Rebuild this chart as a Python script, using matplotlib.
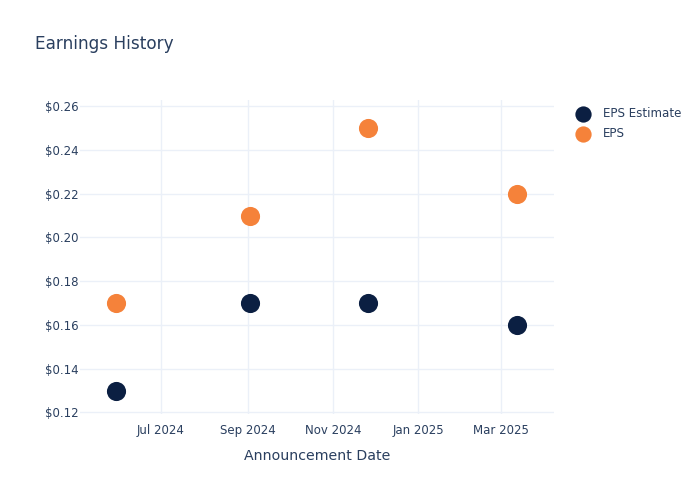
import matplotlib
matplotlib.use("Agg")
import matplotlib.pyplot as plt
import matplotlib.dates as mdates
from matplotlib.ticker import FuncFormatter
import pandas as pd

dates = ["2024-05-30", "2024-09-03", "2024-11-26", "2025-03-13"]
eps_estimate = [0.13, 0.17, 0.17, 0.16]
eps_actual = [0.17, 0.21, 0.25, 0.22]
y_ticks = [0.12, 0.14, 0.16, 0.18, 0.20, 0.22, 0.24, 0.26]
x_ticks = ["2024-07-01", "2024-09-01", "2024-11-01", "2025-01-01", "2025-03-01"]
x_tick_labels = ["Jul 2024", "Sep 2024", "Nov 2024", "Jan 2025", "Mar 2025"]

text_color = "#2a3f5f"
grid_color = "#ebf0f8"
navy = "#0b1f42"
orange = "#f5823a"

plt.rcParams['font.family'] = ['DejaVu Sans']
fig = plt.figure(figsize=(7, 5), dpi=100)
ax = fig.add_axes([80/700, 1-413.5/500, (553.7-80)/700, (413.5-100)/500])

d = pd.to_datetime(dates)
ax.scatter(d, eps_estimate, s=190, color=navy, label="EPS Estimate", zorder=3, linewidths=0)
ax.scatter(d, eps_actual, s=190, color=orange, label="EPS", zorder=3, linewidths=0)

ax.set_xlim(pd.Timestamp("2024-05-04"), pd.Timestamp("2025-04-08"))
ax.set_ylim(0.1195, 0.2628)
ax.set_yticks(y_ticks)
ax.yaxis.set_major_formatter(FuncFormatter(lambda v, p: f"${v:.2f}"))
ax.set_xticks(pd.to_datetime(x_ticks))
ax.set_xticklabels(x_tick_labels)

for s in ax.spines.values():
    s.set_visible(False)
ax.grid(True, color=grid_color, linewidth=1)
ax.set_axisbelow(True)
ax.tick_params(axis='both', length=0, colors=text_color, labelsize=8.5)
ax.tick_params(axis='x', pad=7.5)
ax.tick_params(axis='y', pad=1)

ax.set_xlabel("Announcement Date", color=text_color, fontsize=10.2, labelpad=8.5)
fig.text(35/700, 1-44/500, "Earnings History", color=text_color, fontsize=12.2, va='center', ha='left')

leg = ax.legend(loc='upper left', bbox_to_anchor=(576/700, 1-107/500), bbox_transform=fig.transFigure,
                frameon=False, fontsize=8.6, labelcolor=text_color, handletextpad=1.05,
                labelspacing=0.6, borderaxespad=0, borderpad=0, handlelength=1.2, markerscale=0.85)

fig.savefig("out.png", dpi=100)
